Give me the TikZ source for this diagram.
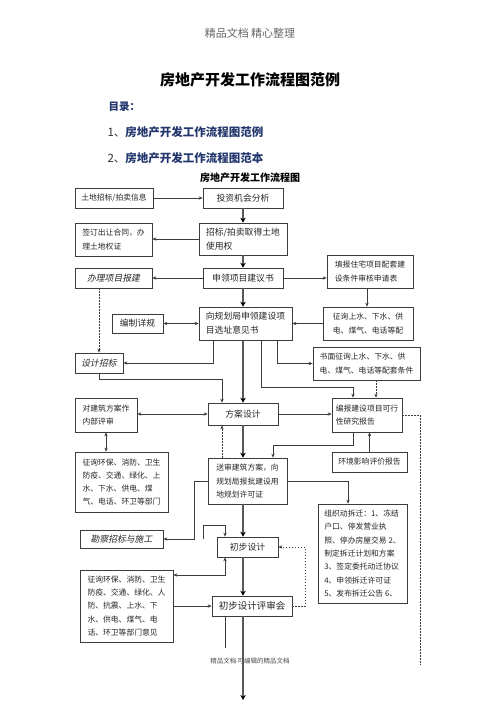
\documentclass[tikz,border=0pt]{standalone}
\usepackage{fontspec}
\setmainfont{Noto Sans CJK SC}[AutoFakeSlant=0.2]
\usetikzlibrary{arrows.meta,positioning}
\definecolor{tocblue}{RGB}{35,55,110}
\definecolor{linegray}{RGB}{60,60,60}
\tikzset{
  boxnode/.style={draw=linegray, line width=0.7pt, rectangle, inner xsep=3pt,
                  inner ysep=2pt, align=left, text=black!85},
  boxsize/.style 2 args={minimum width=#1, minimum height=#2},
  smalltext/.style={font=\fontsize{7.8}{13.3}\selectfont},
  midtext/.style={font=\fontsize{8.8}{14}\selectfont},
  italtext/.style={font=\fontsize{8.8}{14}\selectfont\itshape},
  link/.style={draw=linegray, line width=0.6pt},
  dotlink/.style={link, dash pattern=on 1.5pt off 1.5pt},
  flowline/.style={draw=black!65, line width=2.2pt,
                   -{Stealth[length=5pt,width=5.5pt,black]}}
}

\begin{document}
\begin{tikzpicture}[x=1pt, y=-1pt, >={Stealth[length=4pt,width=3.4pt]}]
  \fill[white] (0,0) rectangle (500,707);
  \useasboundingbox (0,0) rectangle (500,707);

  % Page heading
  \node[text=black!60, font=\fontsize{11}{13}\selectfont] (header) at (250,33) {精品文档 精心整理};
  \node[font=\fontsize{15}{17}\selectfont\bfseries] (title) at (250,80) {房地产开发工作流程图范例};
  \node[anchor=west, text=tocblue, font=\fontsize{10.5}{12}\selectfont\bfseries] (toc) at (105,107) {目录：};
  \node[anchor=west, text=tocblue, font=\fontsize{11.5}{13}\selectfont\bfseries] (tocone) at (104,132)
    {{\mdseries\color{black!80}1、}房地产开发工作流程图范例};
  \node[anchor=west, text=tocblue, font=\fontsize{11.5}{13}\selectfont\bfseries] (toctwo) at (104,158)
    {{\mdseries\color{black!80}2、}房地产开发工作流程图范本};
  \node[font=\fontsize{10}{12}\selectfont\bfseries] (caption) at (250,178) {房地产开发工作流程图};

  % Define nodes
  \node[boxnode, smalltext, boxsize={78}{20}] (info) at (114,198) {土地招标/拍卖信息};
  \node[boxnode, midtext, boxsize={80}{20}] (invest) at (243,198) {投资机会分析};
  \node[boxnode, midtext, boxsize={88}{32}] (acquire) at (243,239) {招标/拍卖取得土地\\使用权};
  \node[boxnode, smalltext, boxsize={77}{33}] (contract) at (113.5,239.5) {签订出让合同，办\\理土地权证};
  \node[boxnode, italtext, boxsize={77}{20}] (apply) at (113.5,278) {办理项目报建};
  \node[boxnode, midtext, boxsize={80}{20}] (proposal) at (243,278) {申领项目建议书};
  \node[boxnode, smalltext, boxsize={86}{33}] (fill) at (370,271.5) {填报住宅项目配套建\\设条件审核申请表};
  \node[boxnode, midtext, boxsize={51}{19}] (detail) at (137.5,323.5) {编制详规};
  \node[boxnode, midtext, boxsize={93}{33}] (site) at (245.5,323.5) {向规划局申领建设项\\目选址意见书};
  \node[boxnode, smalltext, boxsize={90}{33}] (consultA) at (368,323.5) {征询上水、下水、供\\电、煤气、电话等配};
  \node[boxnode, smalltext, boxsize={107}{33}] (written) at (366.5,363.5)
    {书面征询上水、下水、供\\电、煤气、电话等配套条件};
  \node[boxnode, italtext, boxsize={48}{20}] (tender) at (99,363) {设计招标};
  \node[boxnode, smalltext, boxsize={62}{34}] (review) at (106,415) {对建筑方案作\\内部评审};
  \node[boxnode, midtext, boxsize={70}{22}] (scheme) at (243,414) {方案设计};
  \node[boxnode, smalltext, boxsize={70}{34}] (feasible) at (367,415) {编报建设项目可行\\性研究报告};
  \node[boxnode, smalltext, boxsize={93}{60}] (consultB) at (121.5,482)
    {征询环保、消防、卫生\\防疫、交通、绿化、上\\水、下水、供电、煤\\气、电话、环卫等部门};
  \node[boxnode, smalltext, boxsize={79}{46}] (submit) at (247.5,481)
    {送审建筑方案，向\\规划局报批建设用\\地规划许可证};
  \node[boxnode, smalltext, boxsize={75}{20}] (env) at (369.5,462) {环境影响评价报告};
  \node[boxnode, smalltext, boxsize={89}{99}] (demolish) at (362.5,553.5)
    {组织动拆迁：1、冻结\\户口、停发营业执\\照、停办房屋交易 2、\\制定拆迁计划和方案\\3、签定委托动迁协议\\4、申领拆迁许可证\\5、发布拆迁公告 6、};
  \node[boxnode, italtext, boxsize={83}{18}] (survey) at (121.5,539) {勘察招标与施工};
  \node[boxnode, midtext, boxsize={61}{20}] (prelim) at (247.5,547) {初步设计};
  \node[boxnode, smalltext, boxsize={93}{72}] (consultC) at (126.5,606)
    {征询环保、消防、卫生\\防疫、交通、绿化、人\\防、抗震、上水、下\\水、供电、煤气、电\\话、环卫等部门意见};
  \node[boxnode, font=\fontsize{9.5}{12}\selectfont, boxsize={80}{20}] (meeting) at (252,606) {初步设计评审会};

  \node[text=black!70, font=\fontsize{6.5}{8}\selectfont] (footer) at (250,661) {精品文档 可编辑的精品文档};

  \coordinate (dashend) at (420,665);
  \coordinate (tailend) at (225,648);
  \coordinate (flowend) at (243,700);

  % Main flow
  \draw[flowline] (invest) -- (acquire);
  \draw[flowline] (acquire) -- (proposal);
  \draw[flowline] (proposal.south) -- (proposal.south |- site.north);
  \draw[flowline] (scheme.north |- site.south) -- (scheme.north);
  \draw[flowline] (scheme.south) -- (scheme.south |- submit.north);
  \draw[flowline] (scheme.south |- submit.south) -- (scheme.south |- prelim.north);
  \draw[flowline] (scheme.south |- prelim.south) -- (scheme.south |- meeting.north);
  \draw[flowline] (flowend |- meeting.south) -- (flowend);

  % Side paths
  \draw[link, ->] (info) -- (invest);
  \draw[link, ->] (acquire.west) -- (acquire.west -| contract.east);
  \draw[link, ->] (proposal) -- (apply);
  \draw[link, ->] (proposal.east) -- (proposal.east -| fill.west);
  \draw[link, ->] ([xshift=-3pt]fill.south) -- ([xshift=-3pt]fill.south |- consultA.north);
  \draw[link, ->] (consultA) -- (site);
  \draw[link, <->] (detail) -- (detail -| site.west);
  \draw[dotlink, ->] (apply.south -| tender.north) -- (tender.north);
  \draw[link, ->] ([xshift=-32pt]site.south) |- (tender.east);
  \draw[link, ->] ([xshift=16pt]site.south) -- ++(0,47) -| ([xshift=-14pt]feasible.north);
  \draw[link, ->] ([xshift=32pt]site.south) |- (written.west);
  \draw[dotlink, ->] ([xshift=9pt]feasible.north |- written.south) -- ([xshift=9pt]feasible.north);
  \draw[link, ->] (tender.south) -- ++(0,6) -| ([xshift=-21pt]scheme.north);
  \draw[link, <->] (scheme.west -| review.east) -- (scheme.west);
  \draw[link, ->] (scheme.east) -- (scheme.east -| feasible.west);
  \draw[link, <->] (review.south) -- (review.south |- consultB.north);
  \draw[dotlink] (feasible.east) -| (dashend);
  \draw[dotlink, ->] ([xshift=-21pt]scheme.south |- submit.north) -- ([xshift=-21pt]scheme.south);
  \draw[link, ->] ([xshift=-14pt]feasible.south) -- ++(0,13) -| ([xshift=25.5pt]submit.north);
  \draw[link, ->] (env.north) -- (env.north |- feasible.south);
  \draw[link, ->] (submit.east) -| ([xshift=-14.5pt]demolish.north);
  \draw[link, ->] (submit.west) -- ++(-13,0) |- (survey.east);
  \draw[link, ->] ([xshift=40pt]survey.east) -- ++(0,-14) -| ([xshift=-22.5pt]prelim.north);
  \draw[link, <->] ([xshift=-22.5pt]prelim.south) |- ([yshift=31pt]consultC.east);
  \draw[link, ->] (consultC.east |- meeting.west) -- (meeting.west);
  \draw[dotlink, ->] (meeting.east) -- ++(13,0) |- (prelim.east);
  \draw[link] ([xshift=-27pt]meeting.south) -- (tailend);
\end{tikzpicture}
\end{document}
